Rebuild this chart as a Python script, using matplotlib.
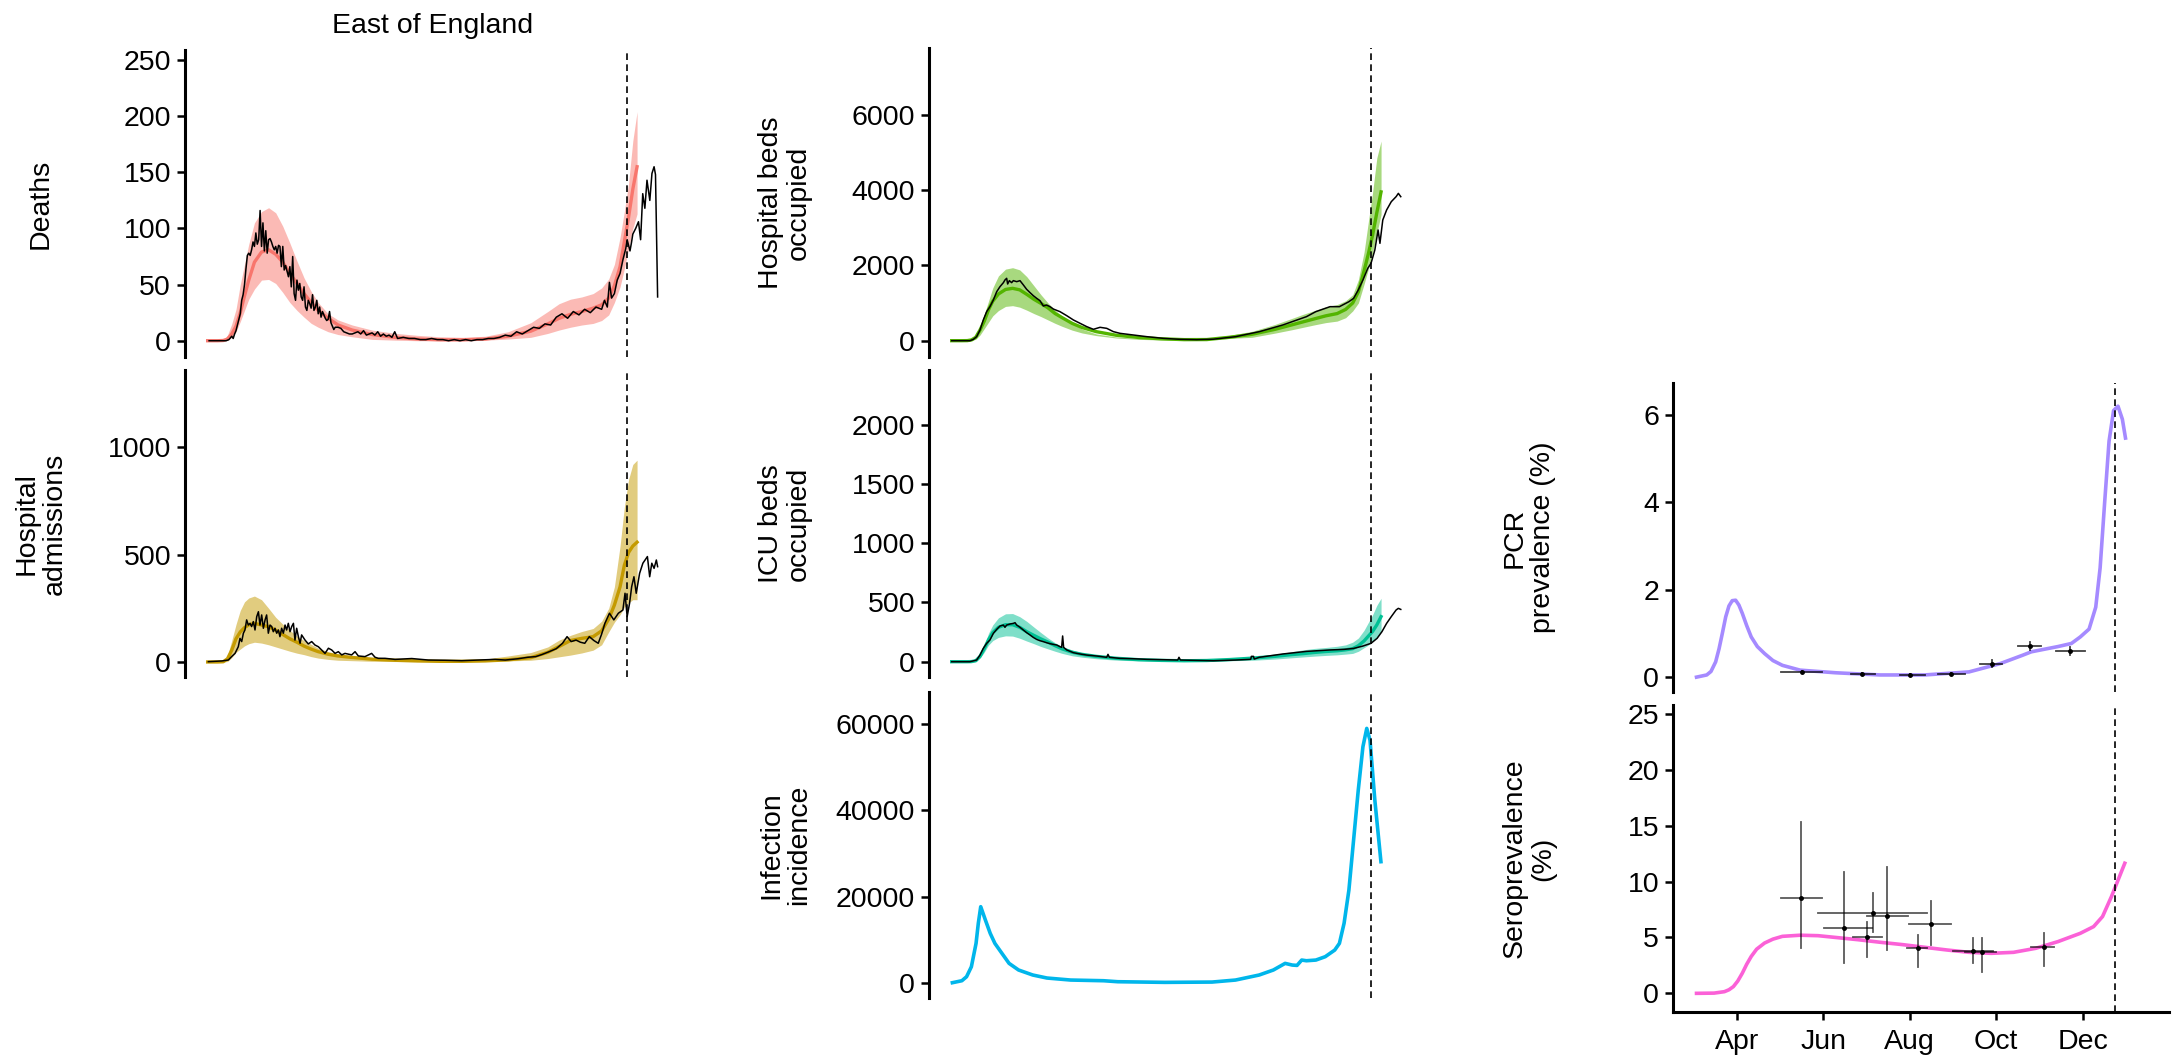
import numpy as np
import matplotlib
matplotlib.use("Agg")
import matplotlib.pyplot as plt
import matplotlib.dates as mdates

plt.rcParams.update({
    "font.family": ["Liberation Sans", "DejaVu Sans"],
    "font.size": 20.5,
    "axes.linewidth": 2.2,
    "ytick.major.width": 1.8,
    "xtick.major.width": 1.8,
    "ytick.major.size": 6,
    "xtick.major.size": 6,
    "ytick.major.pad": 4,
    "xtick.major.pad": 6,
})

W, H = 2177, 1057
DAY0 = mdates.date2num(np.datetime64("2020-03-01"))
XLIM = (mdates.date2num(np.datetime64("2020-02-16")),
        mdates.date2num(np.datetime64("2021-01-31")))
FIT_END = mdates.date2num(np.datetime64("2020-12-24"))

RED, GOLD, GREEN, TEAL = "#F8766D", "#C49A00", "#53B400", "#00C094"
CYAN, PURPLE, PINK = "#00B6EB", "#A58AFF", "#FB61D7"

# ---- model fits: days since 1 March 2020 -------------------------------
fit_day = [2, 9, 13, 16, 19, 22, 25, 28, 31, 35, 40, 45, 50, 55, 60, 65, 70,
           75, 80, 87, 94, 104, 118, 134, 150, 166, 182, 198, 214, 230, 242,
           250, 258, 266, 274, 280, 285, 289, 293, 296, 299, 302, 305]

deaths_lo = [0, 0, 0, 0.5, 3, 8, 17, 27, 37, 46, 54, 54.6, 51, 43, 34, 27, 21,
             15.5, 12, 8, 5.5, 3.5, 1.2, 0.5, 0, 0, 0, 0.5, 1.5, 3, 6.5,
             9.5, 12, 14, 15.4, 18, 23, 34, 48, 64, 82, 100, 113]
deaths_med = [0, 0, 0.2, 1.5, 6, 13, 25, 40, 54, 70, 79, 81, 77, 70, 60, 51,
              42, 34, 27, 20, 14, 9.5, 5.5, 3, 1.5, 0.8, 0.8, 1.5, 4, 8.5, 15,
              20, 23.5, 26, 29, 32, 38, 49, 66, 88, 110, 135, 155]
deaths_hi = [0, 0, 0.5, 5, 15, 28, 50, 68, 86, 105, 115, 118.5, 114, 102, 87,
             71, 56, 44, 34, 24, 18.5, 14, 9.5, 6.6, 4.8, 3.5, 3, 4, 8, 16, 26,
             33, 37, 39, 42, 47, 55, 68, 92, 115, 140, 178, 204]

adm_lo = [0, 0, 0, 2, 20, 45, 60, 75, 85, 92, 88, 80, 70, 60, 50, 41, 34, 25,
          18, 12, 8, 6, 3, 2, 1, 1, 1, 2, 5, 8, 16, 24, 32, 42, 55, 80, 140,
          185, 220, 255, 275, 290, 290]
adm_med = [0, 0, 1, 15, 55, 108, 140, 160, 173, 180, 172, 164, 148, 128, 108,
           92, 74, 60, 48, 36, 28, 21, 13, 8, 5, 3, 3, 5, 10, 20, 45, 72, 100,
           110, 118, 145, 200, 265, 350, 450, 510, 540, 558]
adm_hi = [0, 0, 2, 30, 100, 175, 240, 280, 298, 307, 290, 250, 208, 176, 148,
          120, 100, 82, 64, 48, 38, 28, 20, 13, 8, 6, 7, 14, 28, 44, 70, 102,
          124, 142, 156, 190, 250, 350, 540, 720, 850, 920, 940]

beds_lo = [0, 0, 0, 5, 40, 150, 320, 490, 660, 800, 910, 930, 890, 810, 720,
           640, 550, 460, 380, 280, 205, 135, 72, 35, 18, 10, 30, 60, 90, 200,
           290, 355, 420, 480, 520, 610, 790, 1000, 1500, 1900, 2330, 2850, 3350]
beds_med = [0, 0, 2, 20, 90, 284, 520, 820, 1050, 1240, 1360, 1390, 1350, 1230,
            1100, 990, 870, 720, 610, 460, 350, 240, 145, 85, 50, 28, 30, 90,
            170, 300, 420, 500, 580, 660, 720, 830, 1000, 1300, 1850, 2300,
            2800, 3400, 3950]
beds_hi = [0, 0, 5, 40, 150, 372, 700, 1050, 1400, 1720, 1900, 1938, 1880, 1700,
           1460, 1220, 1000, 810, 650, 460, 310, 180, 100, 60, 45, 40, 55, 140,
           250, 430, 590, 700, 800, 900, 960, 1060, 1220, 1620, 2350, 3150,
           3930, 4850, 5300]

icu_lo = [0, 0, 0, 0, 2, 30, 80, 140, 178, 205, 218, 216, 198, 174, 152, 128,
          108, 88, 70, 50, 38, 25, 13, 7, 4, 3, 4, 8, 12, 22, 33, 40, 47, 53,
          58, 64, 70, 88, 118, 140, 170, 205, 253]
icu_med = [0, 0, 0, 1, 8, 45, 110, 185, 245, 290, 312, 312, 290, 253, 222, 192,
           165, 135, 108, 80, 62, 45, 29, 17, 11, 8, 10, 18, 30, 45, 60, 68, 78,
           86, 92, 100, 110, 135, 175, 215, 255, 310, 380]
icu_hi = [0, 0, 0, 3, 12, 60, 140, 240, 310, 370, 404, 406, 380, 340, 292, 245,
          200, 160, 128, 98, 74, 52, 36, 24, 17, 14, 14, 22, 38, 62, 85, 100,
          112, 120, 130, 142, 165, 200, 265, 330, 395, 475, 535]

# ---- observed daily series (day, value) -------------------------------
deaths_obs = [
    (3, 0), (8, 0), (12, 0), (15, 0), (17, 1), (19, 4), (20, 2), (21, 6),
    (22, 9), (23, 14), (24, 19), (25, 24), (26, 36), (27, 41), (28, 50),
    (29, 64), (30, 76), (31, 78), (32, 76), (33, 81), (34, 88), (35, 84),
    (36, 96), (37, 86), (38, 90), (39, 116), (40, 84), (41, 105), (42, 80),
    (43, 98), (44, 78), (45, 90), (46, 91), (47, 88), (48, 84), (49, 81),
    (50, 84), (51, 78), (52, 85), (53, 84), (54, 66), (55, 84), (56, 63),
    (57, 67), (58, 62), (59, 57), (60, 66), (61, 48), (62, 75), (63, 42),
    (64, 36), (65, 54), (66, 45), (67, 51), (68, 39), (69, 36), (70, 48),
    (71, 30), (72, 27), (73, 36), (74, 33), (75, 29), (76, 41), (77, 27),
    (78, 30), (79, 36), (80, 24), (81, 30), (82, 21), (83, 26), (84, 23),
    (85, 20), (86, 18), (87, 19), (88, 26), (89, 16), (90, 13), (91, 10),
    (92, 12), (94, 12), (96, 11), (98, 8), (100, 7), (102, 6), (104, 6),
    (106, 7), (108, 8), (110, 6), (112, 9), (114, 5), (116, 6), (118, 7),
    (120, 5), (122, 8), (124, 4), (126, 6), (128, 4), (130, 5), (132, 3),
    (134, 8), (136, 2), (140, 3), (144, 2), (148, 2), (152, 1), (156, 1),
    (160, 2), (164, 1), (168, 1), (172, 0), (176, 1), (180, 0), (184, 1),
    (188, 0), (192, 1), (196, 1), (200, 2), (204, 2), (208, 3), (212, 5),
    (216, 4), (220, 8), (224, 6), (228, 9), (232, 12), (236, 11), (240, 15),
    (244, 14), (248, 21), (252, 24), (256, 20), (260, 26), (264, 23),
    (268, 28), (272, 25), (276, 30), (280, 28), (282, 36), (284, 30),
    (285.5, 52), (287, 38), (289, 42), (291, 54), (293, 60), (295, 72),
    (297, 82), (298, 90), (300, 80), (301, 87), (302, 95), (304, 100),
    (306, 106), (307.5, 90), (309, 131), (310.5, 118), (312, 143), (314, 125),
    (315.5, 149), (317, 155), (318, 148), (319.5, 39),
]

adm_obs = [
    (2.5, 1.5), (12, 4.7), (16.6, 9), (18.9, 25), (21.3, 40), (23.6, 71),
    (24.8, 110), (26, 95), (27.2, 134), (28.3, 149), (29.5, 196), (30.7, 172),
    (31.9, 180), (33, 165), (34.2, 188), (35.4, 149), (36.6, 211),
    (37.8, 234), (38.9, 172), (40.1, 219), (41.3, 157), (42.5, 196),
    (43.6, 219), (44.8, 134), (46, 172), (47.2, 165), (48.3, 141),
    (49.5, 157), (50.7, 134), (51.9, 149), (53, 118), (54.2, 157),
    (55.4, 134), (56.6, 172), (57.7, 149), (58.9, 180), (60.1, 141),
    (61.3, 165), (62.5, 180), (63.6, 102), (64.8, 157), (66, 118), (67.2, 87),
    (68.3, 126), (70.7, 102), (73, 84), (75.4, 95), (77.7, 79), (80.1, 71),
    (82.4, 56), (84.8, 40), (87.2, 64), (89.5, 56), (91.9, 40), (94.2, 48),
    (96.6, 33), (98.9, 40), (103.6, 33), (106, 48), (108.3, 28), (113, 25),
    (117.7, 40), (120.1, 22), (122.4, 17), (127.1, 17), (134.2, 12),
    (146, 16), (157.7, 9), (169.5, 8), (181.2, 6), (193, 9), (204.8, 12),
    (212, 9), (221, 15), (228, 22), (233.5, 25), (238, 35), (243, 48),
    (248, 62), (252.4, 87), (255.6, 118), (258.5, 95), (261.9, 102),
    (265, 92), (268.1, 87), (271.3, 118), (274.5, 100), (277.6, 87),
    (280, 130), (282.3, 180), (285.5, 227), (288.6, 196), (291.8, 227),
    (295, 242), (296.5, 320), (298, 211), (299.7, 273), (301.2, 351),
    (302.8, 397), (304.4, 320), (306.8, 413), (309.1, 460), (312.3, 491),
    (313.9, 397), (315.4, 460), (317, 436), (318.6, 475), (319.5, 444),
]

beds_obs = [
    (2, 0), (14.9, 0), (17.3, 36), (19.6, 107), (22, 284), (24.3, 549),
    (26.7, 771), (29, 903), (31.4, 1080), (33.8, 1302), (36.1, 1435),
    (38.5, 1541), (39.6, 1612), (40.8, 1656), (41.5, 1505), (42.7, 1594),
    (44.3, 1541), (45.5, 1594), (47.9, 1567), (50.2, 1594), (52.6, 1479),
    (54.9, 1364), (57.3, 1275), (59.6, 1195), (62, 1124), (64.3, 1063),
    (66.7, 921), (69, 947), (71.4, 903), (73.7, 841), (78.4, 771),
    (83.2, 664), (87.9, 550), (92.6, 461), (97.3, 373), (102, 302),
    (106.7, 355), (111.4, 328), (116.1, 240), (120.8, 195), (130.2, 151),
    (139.6, 107), (151.4, 62), (163.1, 36), (174.9, 27), (186.7, 40),
    (202.3, 106), (219, 239), (235.6, 416), (245.6, 549), (252.3, 637),
    (258.9, 770), (265.6, 858), (269, 903), (275.6, 903), (282.3, 1035),
    (285.6, 1124), (288.9, 1345), (292.2, 1611), (295.6, 1920), (297.9, 2053),
    (300.6, 2407), (302.9, 2938), (304.2, 2584), (306.2, 3204), (308.9, 3469),
    (312.2, 3690), (315.6, 3823), (317.2, 3911), (318.9, 3823),
]

icu_obs = [
    (2, 0), (14.9, 0), (19.6, 14), (22, 56), (24.3, 112), (26.7, 155),
    (29, 183), (31.4, 239), (33.8, 273), (36.1, 301), (38.5, 309),
    (39.6, 290), (40.8, 309), (43.2, 318), (45.5, 323), (46.7, 329),
    (47.9, 309), (50.2, 290), (52.6, 267), (54.9, 245), (57.3, 225),
    (59.6, 205), (62, 188), (64.3, 177), (66.7, 169), (69, 160), (71.4, 152),
    (73.7, 146), (76.1, 141), (78.4, 127), (79.6, 121), (80.3, 217),
    (81, 121), (83.2, 99), (87.9, 76), (92.6, 65), (97.3, 56), (104.3, 48),
    (111.4, 37), (112.3, 62), (113.3, 37), (120.8, 28), (130.2, 25),
    (139.6, 20), (151.4, 17), (161.5, 14), (162.4, 37), (163.4, 14),
    (174.9, 11), (186.7, 8), (202.3, 14), (213, 20), (213.5, 45), (215, 45),
    (215.5, 22), (219, 37), (235.6, 65), (252.3, 87), (268.9, 99),
    (278.9, 104), (285.6, 112), (292.2, 132), (297.9, 155), (302.2, 197),
    (305.6, 253), (308.9, 323), (312.2, 380), (315.6, 436), (317.2, 450),
    (318.9, 441),
]

incidence = [
    (2.5, 0), (9.2, 460), (12.5, 1390), (15.9, 3700), (19.2, 9130),
    (20.8, 13800), (22.5, 17650), (25.8, 14550), (29.2, 11460), (32.5, 9130),
    (37.5, 6800), (42.5, 4490), (49.2, 2950), (59.2, 1790), (69.2, 1090),
    (85.9, 620), (109.2, 460), (119.2, 230), (152.5, 80), (185.7, 150),
    (202.3, 620), (219, 1790), (229, 2950), (237.3, 4490), (242.3, 4100),
    (245.7, 4020), (249, 5260), (252.3, 5100), (259, 5260), (265.6, 6040),
    (272.3, 7580), (275.6, 9130), (278.9, 13800), (282.3, 21500),
    (285.6, 33100), (288.9, 44700), (292.2, 54800), (294.9, 59050),
    (297.2, 56300), (300.6, 42400), (304.9, 28100),
]

pcr_curve = [
    (2.6, 0), (9.8, 0.05), (12.8, 0.13), (16.1, 0.35), (18.5, 0.65),
    (20.8, 1.0), (23.2, 1.38), (25.5, 1.63), (27.8, 1.75), (30.2, 1.76),
    (32.5, 1.65), (34.9, 1.46), (38, 1.18), (41.2, 0.92), (45.5, 0.7),
    (50.6, 0.54), (56.5, 0.38), (63.2, 0.27), (75.7, 0.16), (100.8, 0.1),
    (132.2, 0.05), (163.5, 0.05), (194.9, 0.12), (216.9, 0.31), (232.6, 0.5),
    (238.9, 0.58), (248.3, 0.64), (257.7, 0.7), (267.1, 0.77), (273.4, 0.92),
    (279.6, 1.1), (284.3, 1.6), (287.4, 2.5), (290.6, 4.0), (293.7, 5.4),
    (296.9, 6.1), (300, 6.2), (303.1, 5.9), (305.3, 5.47),
]

sero_curve = [
    (2.6, 0), (15, 0.02), (22.3, 0.15), (25.5, 0.32), (28.6, 0.6),
    (31.7, 1.1), (34.9, 1.8), (38, 2.6), (41.2, 3.3), (45, 3.95),
    (50.6, 4.5), (56.5, 4.85), (63.2, 5.1), (75.7, 5.2), (88.3, 5.16),
    (100.8, 5.0), (116.5, 4.8), (132.2, 4.57), (147.9, 4.36), (163.5, 4.12),
    (179.2, 3.88), (194.9, 3.67), (210.6, 3.58), (226.3, 3.67), (242, 4.03),
    (257.7, 4.63), (273.4, 5.37), (282.8, 5.97), (289.1, 6.87),
    (295.4, 8.66), (300.1, 10.15), (304.8, 11.64),
]

# survey estimates: (mid day, value, first day, last day, lower, upper)
pcr_points = [
    (77.2, 0.12, 62.5, 91.4, 0.10, 0.14),
    (119.6, 0.08, 111.8, 128.4, 0.06, 0.10),
    (153.5, 0.05, 146.3, 163.5, 0.03, 0.07),
    (182.3, 0.08, 173.0, 191.7, 0.06, 0.10),
    (211.1, 0.31, 202.7, 218.4, 0.24, 0.39),
    (237.9, 0.71, 229.4, 245.7, 0.62, 0.81),
    (266.4, 0.60, 256.1, 276.5, 0.50, 0.69),
]
sero_points = [
    (76.3, 8.51, 62.2, 91.4, 4.03, 15.37),
    (106.4, 5.82, 92.9, 126.5, 2.69, 10.90),
    (126.8, 7.16, 88.2, 165.1, 5.52, 8.96),
    (122.7, 5.07, 112.7, 133.7, 3.28, 6.42),
    (136.8, 6.96, 122.7, 151.6, 3.88, 11.34),
    (158.8, 4.03, 151.0, 165.1, 2.39, 5.22),
    (168.2, 6.18, 152.5, 182.3, 4.33, 8.27),
    (198.0, 3.79, 183.9, 212.1, 2.69, 4.93),
    (204.3, 3.73, 191.7, 213.7, 1.94, 4.93),
    (247.6, 4.18, 238.8, 254.5, 2.45, 5.37),
]


def dates(days):
    return DAY0 + np.asarray(days, dtype=float)


def add_panel(x0, y0, y1, width=496):
    ax = fig.add_axes([x0 / W, 1 - y1 / H, width / W, (y1 - y0) / H])
    for side in ("top", "right", "bottom"):
        ax.spines[side].set_visible(False)
    ax.tick_params(axis="x", bottom=False, labelbottom=False)
    ax.set_xlim(XLIM)
    return ax


def finish(ax, label, ylim, yticks):
    ax.set_ylim(ylim)
    ax.set_yticks(yticks)
    ax.axvline(FIT_END, color="black", lw=1.2, ls=(0, (4, 2.6)), zorder=5)
    ax.text(-144 / 496, 0.5, label, transform=ax.transAxes, rotation=90,
            ha="center", va="center", multialignment="center",
            linespacing=1.1)


def fit_panel(ax, lo, med, hi, obs, color):
    x = dates(fit_day)
    ax.fill_between(x, lo, hi, color=color, alpha=0.5, lw=0)
    ax.plot(x, med, color=color, lw=2.4)
    d, v = np.array(obs).T
    ax.plot(dates(d), v, color="black", lw=1.1)


def survey(ax, points, alpha):
    for mid, val, first, last, lo, hi in points:
        ax.plot(dates([first, last]), [val, val], color="black", lw=1.3,
                alpha=alpha)
        ax.plot(dates([mid, mid]), [lo, hi], color="black", lw=1.3,
                alpha=alpha)
        ax.plot(dates([mid]), [val], "o", color="black", ms=2.5)


fig = plt.figure(figsize=(W / 100, H / 100), dpi=100)

ax = add_panel(185, 50, 357)
fit_panel(ax, deaths_lo, deaths_med, deaths_hi, deaths_obs, RED)
finish(ax, "Deaths", (-14.5, 259), range(0, 251, 50))

ax = add_panel(185, 370, 677)
fit_panel(ax, adm_lo, adm_med, adm_hi, adm_obs, GOLD)
finish(ax, "Hospital\nadmissions", (-70, 1360), [0, 500, 1000])

ax = add_panel(929, 48, 357)
fit_panel(ax, beds_lo, beds_med, beds_hi, beds_obs, GREEN)
finish(ax, "Hospital beds\noccupied", (-433, 7770), [0, 2000, 4000, 6000])

ax = add_panel(929, 370, 677)
fit_panel(ax, icu_lo, icu_med, icu_hi, icu_obs, TEAL)
finish(ax, "ICU beds\noccupied", (-129, 2460), range(0, 2001, 500))

ax = add_panel(929, 692, 998)
d, v = np.array(incidence).T
ax.plot(dates(d), v, color=CYAN, lw=2.6)
finish(ax, "Infection\nincidence", (-3550, 67500), [0, 20000, 40000, 60000])

ax = add_panel(1673, 383, 692)
d, v = np.array(pcr_curve).T
ax.plot(dates(d), v, color=PURPLE, lw=2.6)
survey(ax, pcr_points, 0.75)
finish(ax, "PCR\nprevalence (%)", (-0.34, 6.73), [0, 2, 4, 6])

ax = add_panel(1673, 705, 1012)
d, v = np.array(sero_curve).T
ax.plot(dates(d), v, color=PINK, lw=2.6)
survey(ax, sero_points, 0.65)
finish(ax, "Seroprevalence\n(%)", (-1.67, 25.8), range(0, 26, 5))
ax.spines["bottom"].set_visible(True)
ax.tick_params(axis="x", bottom=True, labelbottom=True)
ax.xaxis.set_major_locator(mdates.MonthLocator(bymonth=[4, 6, 8, 10, 12]))
ax.xaxis.set_major_formatter(mdates.DateFormatter("%b"))

fig.text(433 / W, 1 - 26 / H, "East of England", ha="center", va="center")

fig.savefig("out.png", dpi=100)
